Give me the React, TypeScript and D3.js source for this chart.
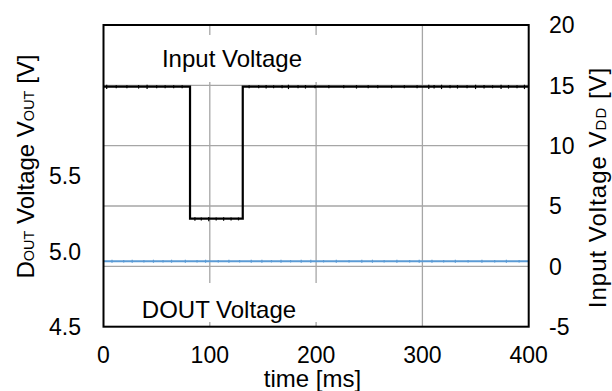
import React from "react";
import * as d3 from "d3";

// ---- data ----
const xTicks = [0, 100, 200, 300, 400];
const leftTicks = [4.5, 5.0, 5.5];
const leftTickLabels = ["4.5", "5.0", "5.5"];
const rightTicks = [-5, 0, 5, 10, 15, 20];
const gridY = [0, 5, 10, 15];
const gridX = [100, 200, 300];

const inputT = [0, 81.4, 81.4, 131, 131, 400];
const inputV = [14.9, 14.9, 3.95, 3.95, 14.9, 14.9];
const doutT = [0, 400];
const doutV = [4.934, 4.934];

// small noise spikes seen on the traces (time ms, excursion V)
const inputSpikeT = [3, 12, 22, 33, 41, 50, 58, 66, 74, 86, 92, 99, 106, 113, 120, 127, 137, 146, 153, 160, 168, 174, 183, 190, 199, 212, 226, 238, 249, 258, 271, 283, 295, 306, 311, 318, 326, 333, 342, 350, 358, 366, 374, 381, 389, 396];
const inputSpikeA = [0.15, 0.1, 0.1, 0.12, 0.15, 0.1, 0.1, 0.1, 0.1, 0.12, 0.1, 0.15, 0.1, 0.12, 0.1, 0.1, 0.1, 0.1, 0.12, 0.1, 0.1, 0.15, 0.1, 0.12, 0.1, 0.1, 0.1, 0.12, 0.1, 0.1, 0.1, 0.1, 0.1, 0.15, 0.12, 0.15, 0.1, 0.12, 0.1, 0.15, 0.12, 0.1, 0.15, 0.12, 0.1, 0.15];
const doutSpikeT = [8, 19, 27, 38, 47, 56, 64, 77, 88, 96, 108, 118, 128, 139, 149, 158, 167, 176, 186, 195, 207, 219, 231, 243, 253, 264, 276, 288, 297, 309, 320, 331, 343, 356, 368, 379, 391];
const doutSpikeA = [0.01, 0.008, 0.01, 0.008, 0.01, 0.008, 0.01, 0.01, 0.008, 0.01, 0.008, 0.01, 0.008, 0.01, 0.01, 0.008, 0.01, 0.008, 0.01, 0.01, 0.008, 0.01, 0.008, 0.01, 0.01, 0.008, 0.01, 0.008, 0.01, 0.01, 0.008, 0.01, 0.008, 0.01, 0.008, 0.01, 0.008];

// ---- layout ----
const W = 612, H = 391;
const L = 103.5, R = 528.7, T = 25, B = 326.7;
const FONT = "Liberation Sans, Arial, sans-serif";

export default function App() {
  const x = d3.scaleLinear().domain([0, 400]).range([L, R]);
  const yL = d3.scaleLinear().domain([4.5, 6.5]).range([B, T]);
  const yR = d3.scaleLinear().domain([-5, 20]).range([B, T]);

  const inputLine = d3
    .line<number>()
    .x((_, i) => x(inputT[i]))
    .y((d) => yR(d))(inputV) as string;
  const doutLine = d3
    .line<number>()
    .x((_, i) => x(doutT[i]))
    .y((d) => yL(d))(doutV) as string;

  const inputLevelAt = (t: number) => {
    for (let i = inputT.length - 1; i > 0; i--) {
      if (t >= inputT[i - 1] && t <= inputT[i]) return inputV[i];
    }
    return inputV[0];
  };

  return (
    <svg
      width={W}
      height={H}
      style={{ position: "absolute", left: 0, top: 0, background: "#fff" }}
      fontFamily={FONT}
    >
      <rect x={0} y={0} width={W} height={H} fill="#fff" />
      {/* grid */}
      {gridY.map((v) => (
        <line key={"gy" + v} x1={L} x2={R} y1={yR(v)} y2={yR(v)} stroke="#a6a6a6" strokeWidth={1.3} />
      ))}
      {gridX.map((v) => (
        <line key={"gx" + v} x1={x(v)} x2={x(v)} y1={T} y2={B} stroke="#a6a6a6" strokeWidth={1.3} />
      ))}
      {/* annotation boxes */}
      <rect x={146} y={35} width={174} height={47} fill="#fff" />
      <rect x={130} y={283} width={190} height={39} fill="#fff" />

      {/* input trace */}
      <path d={inputLine} fill="none" stroke="#000" strokeWidth={2.2} />
      {inputSpikeT.map((t, i) => {
        const v = inputLevelAt(t);
        return (
          <line
            key={"is" + i}
            x1={x(t)}
            x2={x(t)}
            y1={yR(v + inputSpikeA[i])}
            y2={yR(v - inputSpikeA[i] * 1.4)}
            stroke="#000"
            strokeWidth={1.2}
          />
        );
      })}
      {/* dout trace */}
      <path d={doutLine} fill="none" stroke="#5b9bd5" strokeWidth={2} />
      {doutSpikeT.map((t, i) => (
        <line
          key={"ds" + i}
          x1={x(t)}
          x2={x(t)}
          y1={yL(doutV[0] + doutSpikeA[i])}
          y2={yL(doutV[0] - doutSpikeA[i])}
          stroke="#5b9bd5"
          strokeWidth={1.2}
        />
      ))}

      {/* frame */}
      <rect x={L} y={T} width={R - L} height={B - T} fill="none" stroke="#000" strokeWidth={2} />

      {/* annotations */}
      <text x={232} y={66.7} fontSize={24} textAnchor="middle" fill="#000">
        Input Voltage
      </text>
      <text x={219} y={318.3} fontSize={24} textAnchor="middle" fill="#000">
        DOUT Voltage
      </text>

      {/* x ticks */}
      {xTicks.map((v) => (
        <text key={"xt" + v} x={x(v)} y={363} fontSize={23} textAnchor="middle" fill="#000">
          {v}
        </text>
      ))}
      <text x={312.5} y={387} fontSize={24} textAnchor="middle" fill="#000">
        time [ms]
      </text>

      {/* left ticks */}
      {leftTicks.map((v, i) => (
        <text key={"lt" + v} x={81} y={yL(v)} dy="0.36em" fontSize={23} textAnchor="end" fill="#000">
          {leftTickLabels[i]}
        </text>
      ))}
      {/* right ticks */}
      {rightTicks.map((v) => (
        <text key={"rt" + v} x={549} y={yR(v)} dy="0.36em" fontSize={23} textAnchor="start" fill="#000">
          {v}
        </text>
      ))}

      {/* left title */}
      <text transform="translate(34,166.5) rotate(-90)" fontSize={24} textAnchor="middle" fill="#000">
        D<tspan fontSize={14.5}>OUT</tspan>
        <tspan> Voltage V</tspan>
        <tspan fontSize={14.5}>OUT</tspan>
        <tspan> [V]</tspan>
      </text>
      {/* right title */}
      <text
        transform="translate(606,187.5) rotate(-90)"
        fontSize={24}
        letterSpacing={1}
        textAnchor="middle"
        fill="#000"
      >
        Input Voltage V<tspan fontSize={15}>DD</tspan>
        <tspan> [V]</tspan>
      </text>
    </svg>
  );
}
